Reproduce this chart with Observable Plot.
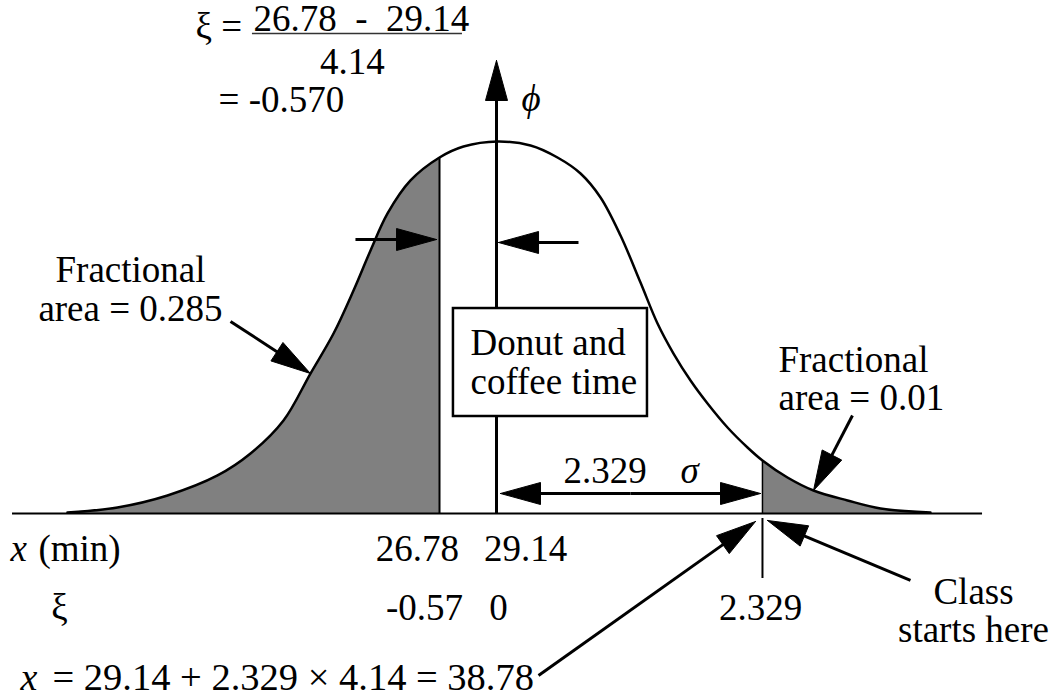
<!DOCTYPE html>
<html>
<head>
<meta charset="utf-8">
<script src="https://cdn.jsdelivr.net/npm/d3@7"></script>
<script src="https://cdn.jsdelivr.net/npm/@observablehq/plot@0.6"></script>
<style>
  html, body { margin: 0; padding: 0; background: #fff; }
  #chart svg { display: block; }
</style>
</head>
<body>
<div id="chart"></div>
<script>
// ---- Data (ξ = standardized units, φ = density) ----
const curveXi  = [-3.757,-3.319,-2.881,-2.443,-2.154,-1.865,-1.629,-1.427,-1.252,-1.103,-0.954,-0.753,-0.499,-0.289,0.009,0.298,0.534,0.736,0.911,1.086,1.261,1.410,1.550,1.699,1.848,2.023,2.198,2.329,2.548,2.776,3.074,3.363,3.800];
const curvePhi = [0.0011,0.0065,0.0194,0.0409,0.0645,0.100,0.1505,0.1935,0.2398,0.2828,0.3226,0.3581,0.3828,0.3946,0.400,0.3957,0.3828,0.3656,0.3398,0.2989,0.2484,0.2043,0.1720,0.1430,0.1183,0.0925,0.0710,0.0570,0.0387,0.0247,0.0140,0.0054,0.0011];
const leftCutXi = -0.499;   // where 26.78 is drawn
const rightCutXi = 2.329;   // class start
const xTickLabels  = ["26.78", "29.14"];
const xTickXi      = [-0.692, 0.254];
const xiTickLabels = ["-0.57", "0", "2.329"];
const xiTickXi     = [-0.630, 0.018, 2.312];

const pts = curveXi.map((x, i) => ({xi: x, phi: curvePhi[i]}));
const leftPts = pts.filter(d => d.xi <= leftCutXi + 1e-9);
const rightPts = pts.filter(d => d.xi >= rightCutXi - 1e-9);
const leftTop = pts.find(d => Math.abs(d.xi - leftCutXi) < 1e-6).phi;
const rightTop = pts.find(d => Math.abs(d.xi - rightCutXi) < 1e-6).phi;

// annotation arrows: tail (x1,y1) -> tip (x2,y2), in data units
const arrows = [
  {x1: -1.235, y1: 0.2946, x2: -0.525, y2: 0.2946},
  {x1: 0.718,  y1: 0.2914, x2: 0.018,  y2: 0.2914},
  {x1: 1.173,  y1: 0.0215, x2: 2.312,  y2: 0.0215},
  {x1: 1.173,  y1: 0.0215, x2: 0.035,  y2: 0.0215},
  {x1: -2.329, y1: 0.2065, x2: -1.629, y2: 0.1505},
  {x1: 3.117,  y1: 0.1054, x2: 2.776,  y2: 0.0247},
  {x1: 3.625,  y1: -0.0720, x2: 2.373, y2: -0.0075},
  {x1: 0.368,  y1: -0.1742, x2: 2.268, y2: -0.0086},
  {x1: 0,      y1: 0,       x2: 0,     y2: 0.4871}
];

// ---- scales (same as Plot's) used to shape arrowheads in screen space ----
const xDomain = [-4, 4], xRange = [39.2, 952.8];
const yDomain = [0, 0.4], yRange = [513, 141];
const xs = d3.scaleLinear(xDomain, xRange);
const ys = d3.scaleLinear(yDomain, yRange);
const headLen = 40, headHalf = 11;
const shafts = [], heads = [];
arrows.forEach((a, i) => {
  const sx = xs(a.x1), sy = ys(a.y1), tx = xs(a.x2), ty = ys(a.y2);
  const L = Math.hypot(tx - sx, ty - sy), ux = (tx - sx) / L, uy = (ty - sy) / L;
  const bx = tx - ux * headLen, by = ty - uy * headLen;
  shafts.push({x1: a.x1, y1: a.y1, x2: xs.invert(tx - ux * 30), y2: ys.invert(ty - uy * 30)});
  const tri = [[tx, ty], [bx - uy * headHalf, by + ux * headHalf], [bx + uy * headHalf, by - ux * headHalf], [tx, ty]];
  tri.forEach(([px, py]) => heads.push({id: i, x: xs.invert(px), y: ys.invert(py)}));
});

const F = "'Liberation Serif', 'Times New Roman', Times, serif";
const FS = 37;
const txt = (data, opts) => Plot.text(data, {x: "x", y: "y", text: "t", fontFamily: F, fontSize: FS, fill: "black", lineAnchor: "bottom", lineHeight: 1.05, ...opts});

const chart = Plot.plot({
  width: 1057,
  height: 698,
  margin: 0,
  style: {background: "#fff", overflow: "visible", fontFamily: F},
  x: {domain: xDomain, range: xRange, axis: null},
  y: {domain: yDomain, range: yRange, axis: null},
  marks: [
    Plot.areaY(leftPts, {x: "xi", y: "phi", fill: "#808080", curve: "catmull-rom"}),
    Plot.areaY(rightPts, {x: "xi", y: "phi", fill: "#808080", curve: "catmull-rom"}),
    Plot.line(pts, {x: "xi", y: "phi", stroke: "black", strokeWidth: 2.5, curve: "catmull-rom"}),
    Plot.ruleY([0], {x1: -4.238, x2: 4.256, stroke: "black", strokeWidth: 2}),
    Plot.ruleX([leftCutXi], {y1: 0, y2: leftTop, stroke: "black", strokeWidth: 2}),
    Plot.ruleX([rightCutXi], {y1: 0, y2: rightTop, stroke: "black", strokeWidth: 1.5}),
    Plot.ruleX([rightCutXi], {y1: -0.0054, y2: -0.0699, stroke: "black", strokeWidth: 2}),
    // arrows
    Plot.link(shafts, {x1: "x1", y1: "y1", x2: "x2", y2: "y2", stroke: "black", strokeWidth: 3}),
    Plot.line(heads, {x: "x", y: "y", z: "id", fill: "black", stroke: "black", strokeWidth: 1, curve: "linear"}),
    // box
    Plot.rect([{x1: -0.377, x2: 1.322, y1: 0.1043, y2: 0.2204}], {x1: "x1", x2: "x2", y1: "y1", y2: "y2", fill: "white", stroke: "black", strokeWidth: 2.5}),
    txt([{x: -0.228, y: 0.129, t: "Donut and\ncoffee time"}], {textAnchor: "start"}),
    // top formula
    txt([{x: -2.636, y: 0.5097, t: "ξ ="}], {textAnchor: "start"}),
    txt([{x: -2.128, y: 0.5183, t: "26.78\u00a0\u00a0-\u00a0\u00a029.14"}], {textAnchor: "start"}),
    Plot.ruleY([0.516], {x1: -2.137, x2: -0.298, stroke: "#333", strokeWidth: 1.5}),
    txt([{x: -1.261, y: 0.4731, t: "4.14"}], {textAnchor: "middle"}),
    txt([{x: -2.434, y: 0.4312, t: "= -0.570"}], {textAnchor: "start"}),
    txt([{x: 0.219, y: 0.4333, t: "ϕ"}], {textAnchor: "start", fontStyle: "italic"}),
    // fractional labels
    txt([{x: -3.205, y: 0.2075, t: "Fractional\narea = 0.285"}], {textAnchor: "middle"}),
    txt([{x: 2.469, y: 0.1108, t: "Fractional\narea = 0.01"}], {textAnchor: "start"}),
    // 2.329 sigma
    txt([{x: 0.587, y: 0.0333, t: "2.329"}], {textAnchor: "start"}),
    txt([{x: 1.611, y: 0.0333, t: "σ"}], {textAnchor: "start", fontStyle: "italic"}),
    // axis rows
    txt([{x: -4.256, y: -0.0516, t: "x"}], {textAnchor: "start", fontStyle: "italic"}),
    txt([{x: -4.011, y: -0.0516, t: "(min)"}], {textAnchor: "start"}),
    txt(xTickLabels.map((t, i) => ({x: xTickXi[i], y: -0.0516, t})), {textAnchor: "middle"}),
    txt([{x: -3.827, y: -0.114, t: "ξ"}], {textAnchor: "middle"}),
    txt(xiTickLabels.map((t, i) => ({x: xiTickXi[i], y: -0.114, t})), {textAnchor: "middle"}),
    txt([{x: 4.177, y: -0.1387, t: "Class\nstarts here"}], {textAnchor: "middle"}),
    txt([{x: -4.168, y: -0.1903, t: "x"}], {textAnchor: "start", fontStyle: "italic", fontSize: 38}),
    txt([{x: -3.888, y: -0.1903, t: "= 29.14 + 2.329 × 4.14 = 38.78"}], {textAnchor: "start", fontSize: 38.5})
  ]
});
document.getElementById("chart").appendChild(chart);
</script>
</body>
</html>
